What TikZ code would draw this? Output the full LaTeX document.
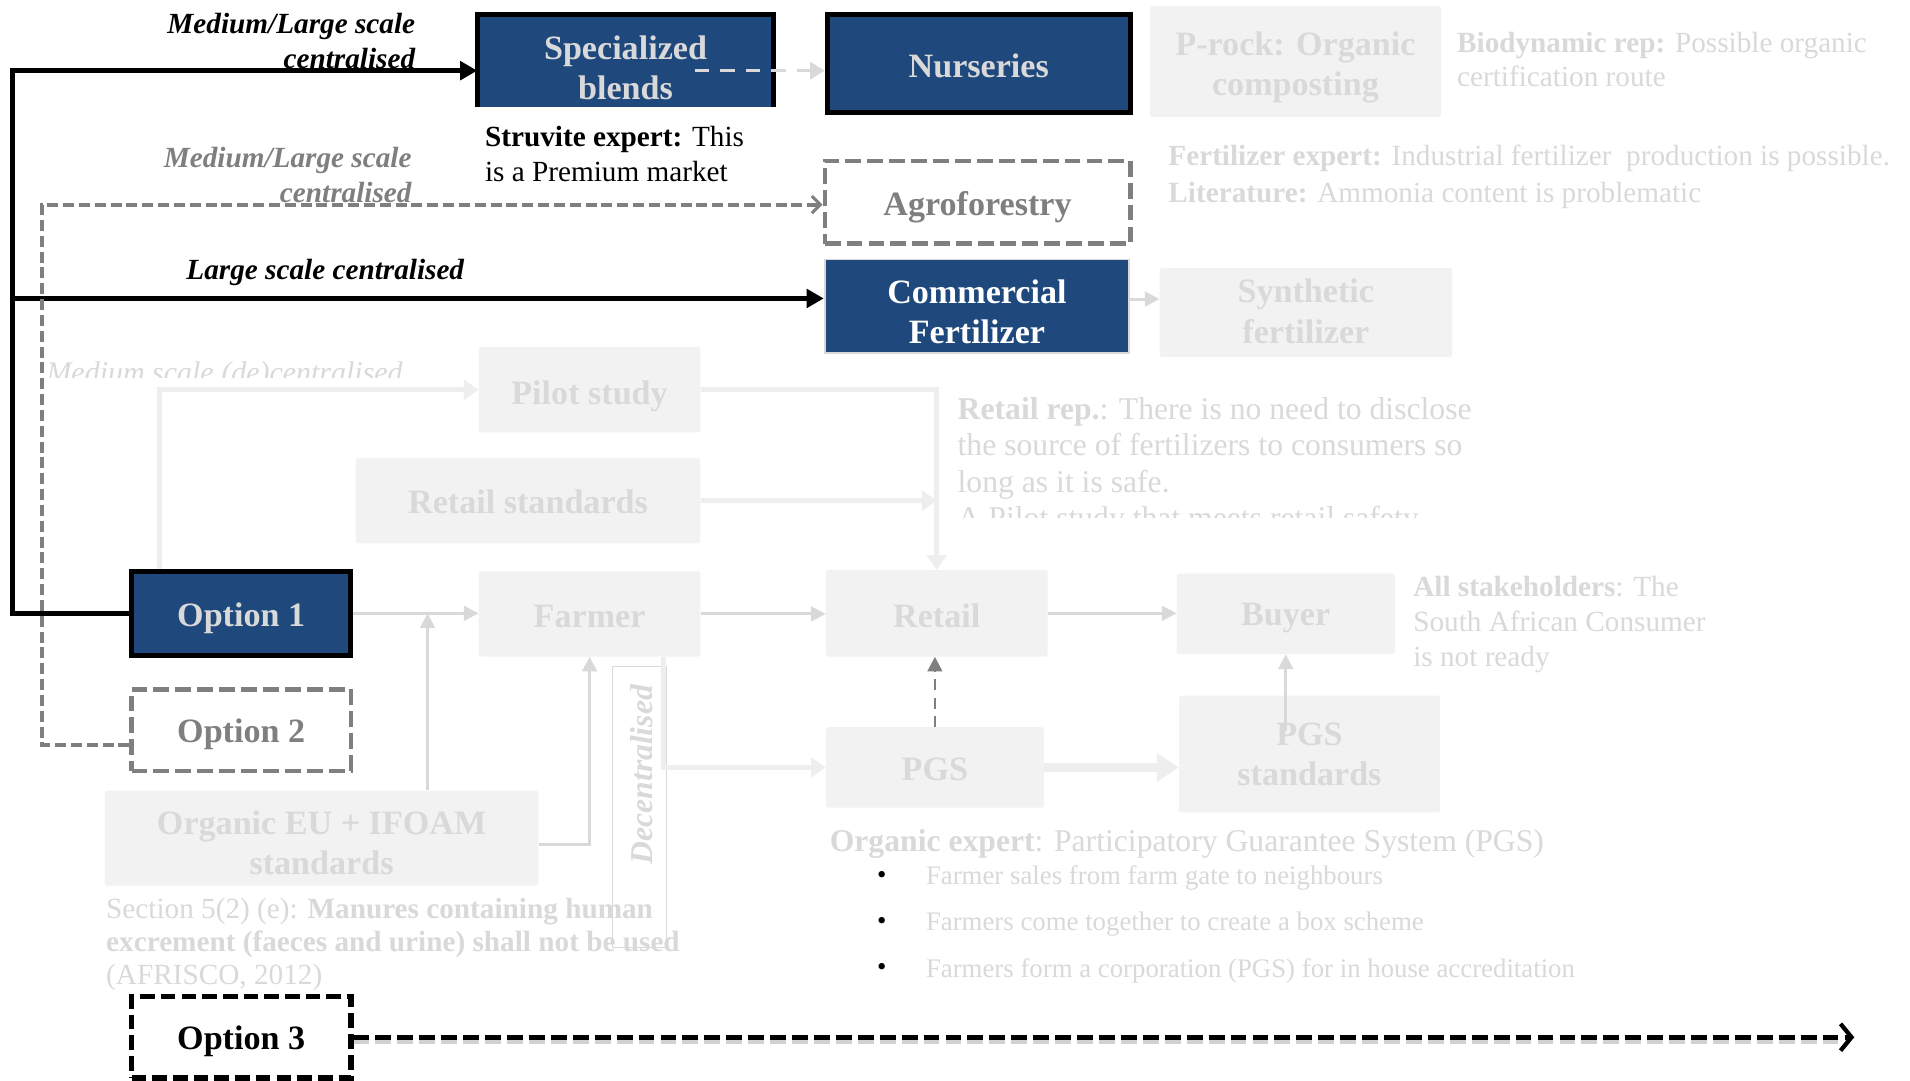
\documentclass[tikz,border=0pt]{standalone}
\usepackage{fontspec}
\setmainfont{Liberation Serif}
\usetikzlibrary{arrows.meta}
\definecolor{navy}{HTML}{1F497D}
\definecolor{lfill}{HTML}{F2F2F2}
\definecolor{vline}{HTML}{EEEEEE}
\definecolor{ltext}{HTML}{D9D9D9}
\definecolor{mgrey}{HTML}{7F7F7F}
\newcommand\boxtxt[4]{\node[bxt, text=#2] (#1-t) at ([yshift=#3]#1.center) {#4};}
\begin{document}
\begin{tikzpicture}[x=1pt,y=-1pt,
  bxt/.style={font=\fontsize{28}{33}\selectfont\bfseries, align=center, inner sep=0pt},
  navybox/.style={fill=navy, inner sep=0pt},
  greybox/.style={fill=lfill, inner sep=0pt, rounded corners=2pt},
  dashbox/.style={fill=white, draw=mgrey, inner sep=0pt, line width=3.5pt, dash pattern=on 13pt off 5pt},
  blkdashbox/.style={fill=white, draw=black, inner sep=0pt, line width=4.5pt, dash pattern=on 12pt off 5pt},
  blk/.style={draw=black, line width=4.2pt, -{Triangle[length=14pt,width=15pt]}},
  gd/.style={draw=mgrey, line width=3.2pt, dash pattern=on 9pt off 4pt, -{Straight Barb[length=7pt,width=14pt,line width=2.5pt]}},
  gdd/.style={draw=mgrey, line width=2.2pt, dash pattern=on 9pt off 6pt, -{Triangle[length=12pt,width=12pt]}},
  lgdash/.style={draw=ltext, line width=3pt, dash pattern=on 12pt off 9pt, -{Triangle[length=12pt,width=14pt]}},
  lgline/.style={draw=ltext, line width=2.5pt, -{Triangle[length=12pt,width=12pt]}},
  vl/.style={draw=vline, line width=4pt, -{Triangle[length=12pt,width=16pt]}},
  vlthick/.style={draw=vline, line width=7pt, -{Triangle[length=18pt,width=22pt]}},
  blkdash/.style={draw=black, line width=4.5pt, dash pattern=on 13pt off 5pt, -{Straight Barb[length=9pt,width=22pt,line width=3.5pt]}},
  annot/.style={inner sep=0pt, align=left, text=ltext},
  ital/.style={inner sep=0pt, font=\fontsize{24}{28}\selectfont\bfseries\itshape}
]
\useasboundingbox (0,0) rectangle (1568,887);
\fill[white] (0,0) rectangle (1568,887);

% ---------- boxes ----------
\node[navybox, minimum width=243pt, minimum height=76pt] (spec) at (513.5,50) {};
\draw[line width=4pt] (spec.south west) -- (spec.north west) -- (spec.north east) -- (spec.south east);
\node[navybox, draw=black, line width=4pt, minimum width=249pt, minimum height=80pt] (nurs) at (803.5,52) {};
\node[greybox, minimum width=239pt, minimum height=91pt] (prock) at (1063.5,50.5) {};
\node[dashbox, minimum width=251pt, minimum height=68pt] (agro) at (802.5,166) {};
\node[navybox, draw=ltext, line width=1.5pt, minimum width=250pt, minimum height=77pt] (comm) at (802,251.5) {};
\node[greybox, minimum width=240pt, minimum height=73pt] (synth) at (1072,256.5) {};
\node[greybox, minimum width=182pt, minimum height=70pt] (pilot) at (484,320) {};
\node[greybox, minimum width=283pt, minimum height=70pt] (rstd) at (433.5,411) {};
\node[navybox, draw=black, line width=4.2pt, minimum width=180pt, minimum height=69pt] (opt1) at (198,503.5) {};
\node[greybox, minimum width=182pt, minimum height=70pt] (farmer) at (484,504) {};
\node[greybox, minimum width=182pt, minimum height=71pt] (retail) at (769,503.5) {};
\node[greybox, minimum width=179pt, minimum height=66pt] (buyer) at (1055.5,504) {};
\node[greybox, minimum width=179pt, minimum height=66pt] (pgs) at (767.5,630) {};
\node[greybox, minimum width=214pt, minimum height=96pt] (pgsstd) at (1075,619) {};
\node[dashbox, minimum width=180pt, minimum height=67pt] (opt2) at (198,599.5) {};
\node[greybox, minimum width=356pt, minimum height=78pt] (organic) at (264,688) {};
\node[blkdashbox, minimum width=180pt, minimum height=67pt] (opt3) at (198,851.5) {};

% box texts
\boxtxt{spec}{ltext}{-6pt}{Specialized\\blends}
\boxtxt{nurs}{ltext}{-2pt}{Nurseries}
\boxtxt{prock}{ltext}{-5pt}{P-rock: Organic\\composting}
\boxtxt{agro}{mgrey}{-4pt}{Agroforestry}
\boxtxt{comm}{white}{-4.5pt}{Commercial\\Fertilizer}
\boxtxt{synth}{ltext}{1pt}{Synthetic\\fertilizer}
\boxtxt{pilot}{ltext}{-5pt}{Pilot study}
\boxtxt{rstd}{ltext}{-1pt}{Retail standards}
\boxtxt{opt1}{ltext}{-4pt}{Option 1}
\boxtxt{farmer}{ltext}{-2pt}{Farmer}
\boxtxt{retail}{ltext}{-2pt}{Retail}
\boxtxt{buyer}{ltext}{-3pt}{Buyer}
\boxtxt{pgs}{ltext}{-2pt}{PGS}
\boxtxt{pgsstd}{ltext}{0pt}{PGS\\standards}
\boxtxt{opt2}{mgrey}{-3pt}{Option 2}
\boxtxt{organic}{ltext}{-4pt}{Organic EU + IFOAM\\standards}
\boxtxt{opt3}{black}{-3pt}{Option 3}

% Decentralised frame and label
\node[draw=ltext, line width=1.2pt, minimum width=44pt, minimum height=231pt, inner sep=0pt] (decbox) at (525,662.5) {};
\node[rotate=90, font=\fontsize{26}{30}\selectfont\bfseries\itshape, text=ltext, inner sep=0pt] (dectext) at (527,636) {Decentralised};

% ---------- connectors ----------
\coordinate (bj) at (10,245);
\draw[blk] (opt1.west) -- ++(-96pt,0) |- ([yshift=-8pt]spec.west);
\draw[blk] (bj) -- (bj -| comm.west);
\draw[gd] ([yshift=-12pt]opt2.west) -- ++(-72pt,0) |- ([yshift=-2pt]agro.west);
\draw[lgdash] ([xshift=-65pt,yshift=-8pt]spec.east) -- ([yshift=-6pt]nurs.west);
\draw[lgline] ([yshift=6pt]comm.east) -- ([yshift=6pt]comm.east -| synth.west);
\draw[vl] ([xshift=25pt]opt1.north west) |- (pilot.west);
\draw[vl] (pilot.east) -| (retail.north);
\draw[vl] (rstd.east) -- (rstd.east -| retail.north);
\draw[lgline] (opt1.east) -- (opt1.east -| farmer.west);
\draw[lgline] (farmer.east) -- (farmer.east -| retail.west);
\draw[lgline] (retail.east) -- (retail.east -| buyer.west);
\draw[gdd] (pgs.north) -- (pgs.north |- retail.south);
\draw[vlthick] (pgs.east) -- (pgs.east -| pgsstd.west);
\draw[lgline] ([yshift=-29pt]pgsstd.north -| buyer.south) -- (buyer.south);
\draw[lgline] ([xshift=87pt]organic.north) -- ([xshift=87pt]organic.north |- opt1.east);
\draw[lgline] ([yshift=-5pt]organic.east) -| (farmer.south);
\draw[vl] ([xshift=61pt]farmer.south) |- (pgs.west);
\draw[black, opacity=0.18, line width=4.5pt, dash pattern=on 13pt off 5pt] ([yshift=-3pt]opt3.east) -- ++(1226pt,0);
\draw[blkdash] (opt3.east) -- ++(1232pt,0);

% ---------- labels ----------
\node[ital, anchor=north east, align=right] (lab1) at (341,11) {Medium/Large scale\\centralised};
\node[ital, anchor=north east, align=right, text=mgrey] (lab2) at (338,121) {Medium/Large scale\\centralised};
\node[ital] (lab3) at (267,223.5) {Large scale centralised};
\node[annot, text=black, anchor=north west, font=\fontsize{24}{29}\selectfont] (struv) at (398,103) {\textbf{Struvite expert:} This\\is a Premium market};
\node[annot, anchor=north west, font=\fontsize{24}{28}\selectfont] (bio) at (1196,26) {\textbf{Biodynamic rep:} Possible organic\\certification route};
\node[annot, anchor=north west, font=\fontsize{24}{30}\selectfont] (fert) at (959,119) {\textbf{Fertilizer expert:} Industrial fertilizer\ \ production is possible.\\\textbf{Literature:} Ammonia content is problematic};
\begin{scope}
\clip (780,300) rectangle (1260,425);
\node[annot, anchor=north west, font=\fontsize{26}{30}\selectfont] (rrep) at (786,326) {\textbf{Retail rep.}: There is no need to disclose\\the source of fertilizers to consumers so\\long as it is safe.\\A Pilot study that meets retail safety};
\end{scope}
\begin{scope}
\clip (30,285) rectangle (345,310);
\node[annot, anchor=base west, font=\fontsize{24.6}{28}\selectfont\itshape] (msc) at (38,314) {Medium scale (de)centralised};
\end{scope}
\node[annot, anchor=north west, font=\fontsize{24}{28.5}\selectfont] (allst) at (1160,473) {\textbf{All stakeholders}: The\\South African Consumer\\is not ready};
\node[annot, anchor=west, font=\fontsize{26}{30}\selectfont] (orgex) at (681,693) {\textbf{Organic expert}: Participatory Guarantee System (PGS)};
\foreach \yy/\txt in {719/Farmer sales from farm gate to neighbours, 757/Farmers come together to create a box scheme, 795/Farmers form a corporation (PGS) for in house accreditation} {
  \node[inner sep=0pt, font=\fontsize{22}{26}\selectfont] (dot\yy) at (724,\yy+1) {\textbullet};
  \node[annot, anchor=west, font=\fontsize{22}{26}\selectfont] (item\yy) at (760,\yy+2) {\txt};
}
\node[annot, anchor=north west, font=\fontsize{24}{27}\selectfont] (sect) at (87,737) {Section 5(2) (e): \textbf{Manures containing human}\\\textbf{excrement (faeces and urine) shall not be used}\\(AFRISCO, 2012)};
\end{tikzpicture}
\end{document}
